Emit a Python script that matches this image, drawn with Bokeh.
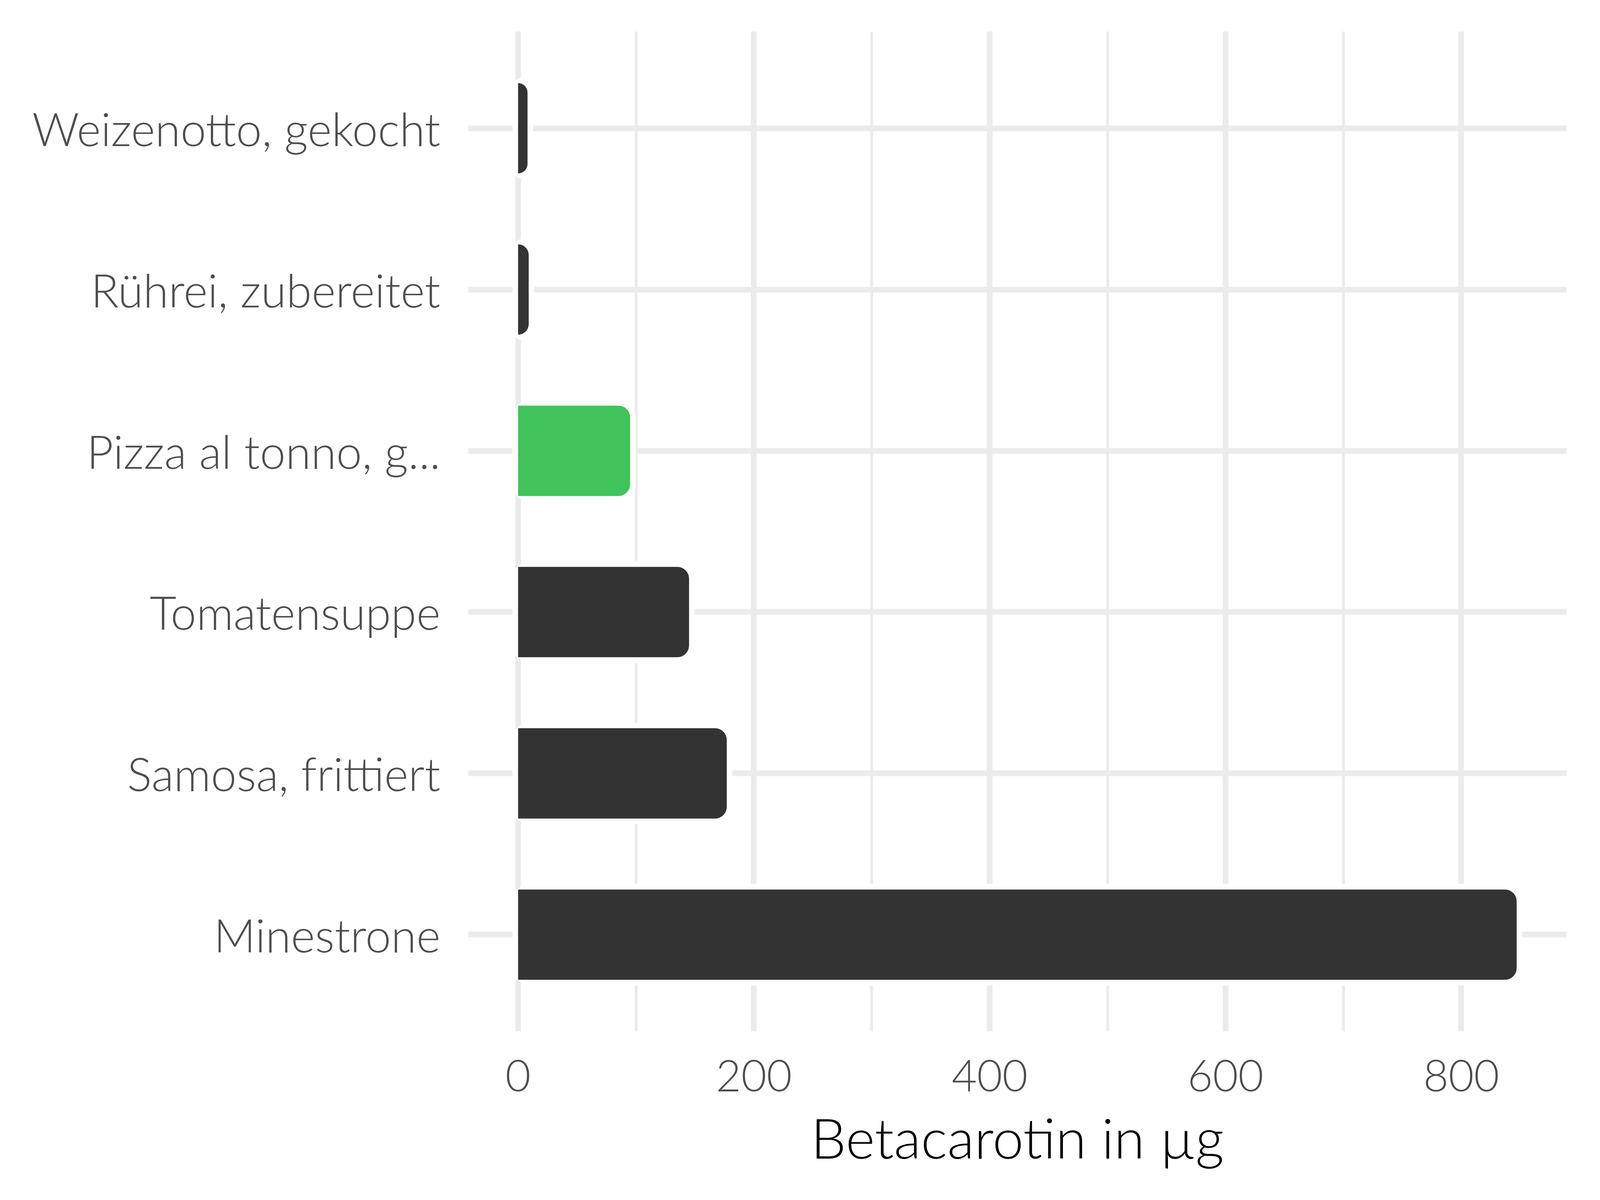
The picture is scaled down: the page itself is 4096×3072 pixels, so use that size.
from bokeh.plotting import figure
from bokeh.models import FixedTicker, Range1d, ColumnDataSource
from bokeh.embed import file_html
from bokeh.resources import INLINE

# ---- data (bottom to top) ----
categories = ["Minestrone", "Samosa, frittiert", "Tomatensuppe",
              "Pizza al tonno, g...", "Rührei, zubereitet", "Weizenotto, gekocht"]
values = [847, 177, 145, 95, 9, 8]
colors = ["#333333", "#333333", "#333333", "#3fc35a", "#333333", "#333333"]
x_ticks = [0, 200, 400, 600, 800]
x_minor_ticks = [100, 300, 500, 700]
x_title = "Betacarotin in µg"

positions = list(range(1, len(categories) + 1))
src = ColumnDataSource(dict(y=positions, right=values, color=colors))

FONT = "Lato Light"
GRID = "#EBEBEB"

xmax = max(values)
pad = 0.05 * xmax

p = figure(width=4080, height=3056, output_backend="svg", toolbar_location=None,
           x_range=Range1d(-pad, xmax + pad), y_range=Range1d(0.4, len(categories) + 0.6),
           min_border_left=1198, min_border_right=70, min_border_top=80, min_border_bottom=416)
p.outline_line_color = None
p.background_fill_color = "white"

# white halo under each bar, then the bar itself
p.hbar(y="y", left=0, right="right", height=0.56, source=src,
       fill_color="white", line_color="white", line_width=29, border_radius=30)
p.hbar(y="y", left=0, right="right", height=0.56, source=src,
       fill_color="color", line_color=None, border_radius=(0, 30, 30, 0))

# x axis
p.xaxis.ticker = FixedTicker(ticks=x_ticks, minor_ticks=x_minor_ticks)
p.xaxis.axis_line_color = None
p.xaxis.major_tick_line_color = None
p.xaxis.minor_tick_line_color = None
p.xaxis.major_label_text_font = FONT
p.xaxis.major_label_text_font_size = "112px"
p.xaxis.major_label_text_color = "#4D4D4D"
p.xaxis.major_label_standoff = 67
p.xaxis.axis_label = x_title
p.xaxis.axis_label_text_font = FONT
p.xaxis.axis_label_text_font_size = "143px"
p.xaxis.axis_label_text_font_style = "normal"
p.xaxis.axis_label_text_color = "black"
p.xaxis.axis_label_standoff = 28

# y axis
p.yaxis.ticker = FixedTicker(ticks=positions)
p.yaxis.major_label_overrides = {pos: lab for pos, lab in zip(positions, categories)}
p.yaxis.axis_line_color = None
p.yaxis.major_tick_line_color = None
p.yaxis.minor_tick_line_color = None
p.yaxis.major_label_text_font = FONT
p.yaxis.major_label_text_font_size = "118px"
p.yaxis.major_label_text_color = "#4D4D4D"
p.yaxis.major_label_standoff = 65

# grids
p.xgrid.grid_line_color = GRID
p.xgrid.grid_line_width = 14.5
p.xgrid.minor_grid_line_color = GRID
p.xgrid.minor_grid_line_width = 7.3
p.ygrid.grid_line_color = GRID
p.ygrid.grid_line_width = 14.5

open("out.html", "w").write(file_html(p, INLINE))
